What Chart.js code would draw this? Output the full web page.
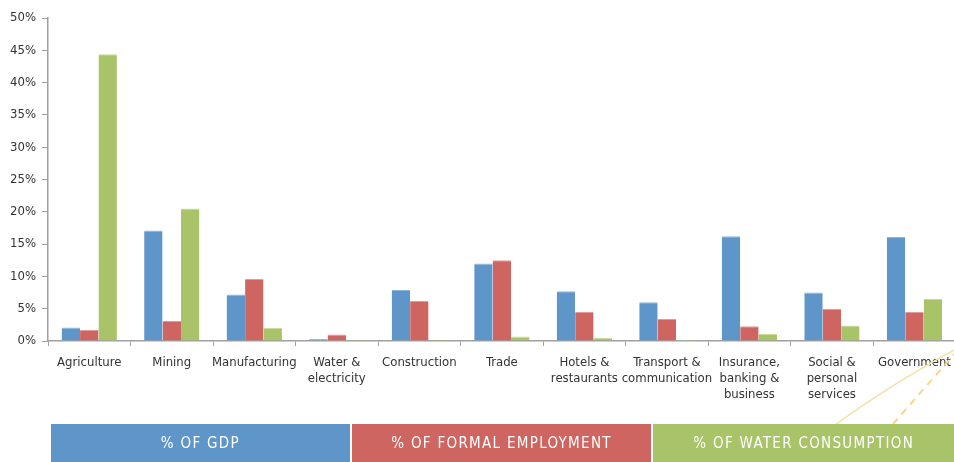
<!DOCTYPE html>
<html><head><meta charset="utf-8">
<script src="https://cdn.jsdelivr.net/npm/chart.js@4"></script>
<style>
html,body{margin:0;padding:0;background:#fff;overflow:hidden;width:954px;height:462px;}
#wrap{position:absolute;left:0;top:0;width:960px;height:420px;}
#legend{position:absolute;left:51px;top:424px;width:903px;height:38px;display:flex;}
#legend div{height:38px;line-height:38px;color:#fff;text-align:center;font-family:"DejaVu Sans Condensed",sans-serif;font-size:15px;letter-spacing:1.3px;}
#deco{position:absolute;left:0;top:0;pointer-events:none;}
</style></head>
<body>
<div id="wrap"><canvas id="c" width="960" height="420"></canvas></div>
<svg id="deco" width="954" height="462">
  <path d="M 815 440 Q 880 390 958 348" stroke="#f5e2a8" stroke-width="1.5" fill="none"/>
  <path d="M 893 424 L 958 350" stroke="#f3d78a" stroke-width="2" stroke-dasharray="7,6" fill="none"/>
</svg>
<div id="legend"></div>
<script>
const categories = ["Agriculture","Mining","Manufacturing",["Water &","electricity"],"Construction","Trade",["Hotels &","restaurants"],["Transport &","communication"],["Insurance,","banking &","business"],["Social &","personal","services"],"Government"];
const seriesNames = ["% OF GDP","% OF FORMAL EMPLOYMENT","% OF WATER CONSUMPTION"];
const gdp = [2.1,17.1,7.2,0.3,7.9,12.0,7.7,6.0,16.2,7.5,16.1];
const employment = [1.7,3.1,9.6,1.0,6.2,12.5,4.5,3.4,2.3,5.0,4.5];
const water = [44.4,20.5,2.0,0.05,0.2,0.7,0.45,0.15,1.1,2.4,6.5];
const yTicks = [0,5,10,15,20,25,30,35,40,45,50];
const colors = ["#5f96c9","#cf6561","#a9c468"];
const borders = ["#8db6dc","#e39a96","#c8dc9a"];

const font = "'DejaVu Sans Condensed',sans-serif";
const values = [gdp, employment, water];

const lg = document.getElementById('legend');
const widths = [299, 300, 301];
seriesNames.forEach((n,i)=>{const d=document.createElement('div');d.textContent=n;d.style.background=colors[i];d.style.width=widths[i]+'px';d.style.marginRight=(i<2?'2px':'0');lg.appendChild(d);});

new Chart(document.getElementById('c'), {
  type: 'bar',
  data: {
    labels: categories,
    datasets: seriesNames.map((n,i)=>({label:n,data:values[i],backgroundColor:colors[i],borderColor:borders[i],borderWidth:{top:1,left:0,right:0,bottom:0},borderSkipped:'bottom',categoryPercentage:0.67,barPercentage:1.0}))
  },
  options: {
    responsive:false, animation:false, maintainAspectRatio:false,
    layout:{padding:{top:18,right:2,bottom:19,left:0}},
    plugins:{legend:{display:false},tooltip:{enabled:false}},
    scales:{
      x:{
        offset:true,
        grid:{display:true,drawOnChartArea:false,offset:true,tickLength:5,color:'#a0a0a0',lineWidth:1},
        border:{color:'#a0a0a0',width:1.5},
        ticks:{color:'#333',font:{family:font,size:13,lineHeight:1.22},padding:9,maxRotation:0,autoSkip:false},
        afterFit:(s)=>{s.height=60;}
      },
      y:{
        min:0,max:50,
        afterBuildTicks:(s)=>{s.ticks=yTicks.map(v=>({value:v}));},
        grid:{display:true,drawOnChartArea:false,tickLength:6,color:'#a0a0a0'},
        border:{color:'#a0a0a0',width:1.5},
        ticks:{color:'#333',font:{family:font,size:13},padding:6,callback:(v)=>v+'%'},
        afterFit:(s)=>{s.width=48;}
      }
    }
  }
});
</script>
</body></html>
